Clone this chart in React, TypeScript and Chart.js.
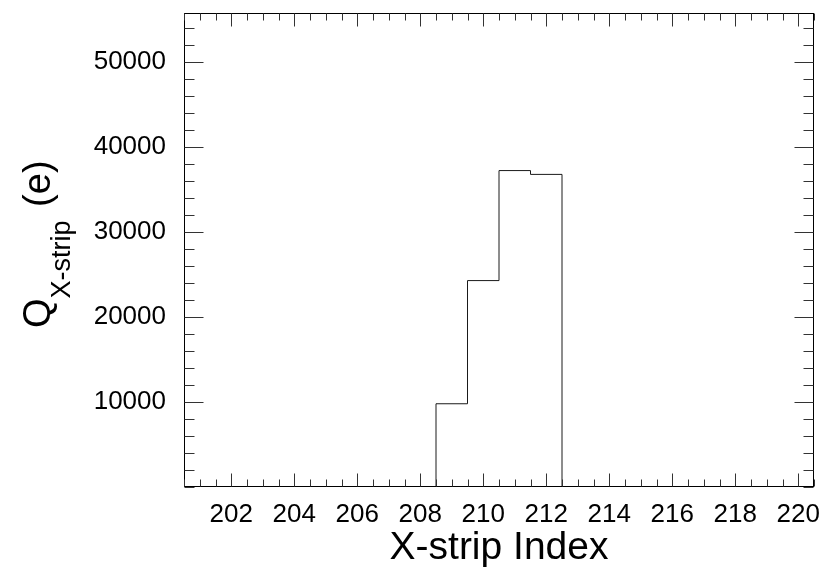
import React, { useEffect, useRef } from 'react';
import { Chart, registerables } from 'chart.js';

Chart.register(...registerables);

// X-strip index (bin centres) and collected charge per strip (electrons)
const stripIndex = [201, 202, 203, 204, 205, 206, 207, 208, 209, 210, 211, 212, 213, 214, 215, 216, 217, 218, 219, 220];
const charge = [0, 0, 0, 0, 0, 0, 0, 0, 9800, 24300, 37250, 36800, 0, 0, 0, 0, 0, 0, 0, 0];

// Axis tick labels
const xTickLabels = [202, 204, 206, 208, 210, 212, 214, 216, 218, 220];
const yTickLabels = [10000, 20000, 30000, 40000, 50000];

const X_MIN = 200.5;
const X_MAX = 220.5;
const Y_MIN = 0;
const Y_MAX = 55800;
const X_MINOR_STEP = 0.5;
const Y_MINOR_STEP = 2000;

const FONT = '"Liberation Sans", Arial, Helvetica, sans-serif';

const rootFrame = {
  id: 'rootFrame',
  afterDraw(chart: any) {
    const { ctx, chartArea: a, scales } = chart;
    const x = scales.x;
    const y = scales.y;
    const L = Math.round(a.left) + 0.5;
    const R = Math.round(a.right) - 0.5;
    const T = Math.round(a.top) + 0.5;
    const B = Math.round(a.bottom) - 0.5;
    ctx.save();
    ctx.lineWidth = 1;
    ctx.strokeStyle = '#000';
    ctx.strokeRect(L, T, R - L, B - T);

    ctx.strokeStyle = '#333';
    ctx.beginPath();
    // x ticks (bottom and top, pointing inwards)
    for (let v = X_MIN; v <= X_MAX + 1e-9; v += X_MINOR_STEP) {
      const isMajor = xTickLabels.includes(Math.round(v * 100) / 100);
      const len = isMajor ? 13 : 7;
      const px = Math.round(x.getPixelForValue(v)) + 0.5;
      ctx.moveTo(px, B);
      ctx.lineTo(px, B - len);
      ctx.moveTo(px, T);
      ctx.lineTo(px, T + len);
    }
    // y ticks (left and right)
    for (let v = Y_MIN; v <= Y_MAX; v += Y_MINOR_STEP) {
      const isMajor = yTickLabels.includes(v);
      const len = isMajor ? 19 : 10;
      const py = Math.round(y.getPixelForValue(v)) + 0.5;
      ctx.moveTo(L, py);
      ctx.lineTo(L + len, py);
      ctx.moveTo(R, py);
      ctx.lineTo(R - len, py);
    }
    ctx.stroke();

    // axis titles
    ctx.fillStyle = '#000';
    ctx.textBaseline = 'alphabetic';
    ctx.font = `39px ${FONT}`;
    ctx.textAlign = 'center';
    ctx.fillText('X-strip Index', (a.left + a.right) / 2, a.bottom + 72);

    ctx.translate(50, 328);
    ctx.rotate(-Math.PI / 2);
    ctx.textAlign = 'left';
    ctx.font = `38px ${FONT}`;
    ctx.fillText('Q', 0, 0);
    let off = ctx.measureText('Q').width;
    ctx.font = `27px ${FONT}`;
    ctx.fillText('X-strip', off, 20);
    off += ctx.measureText('X-strip').width + 3;
    ctx.font = `38px ${FONT}`;
    ctx.fillText(' (e)', off, 0);
    ctx.restore();
  },
};

export default function App() {
  const ref = useRef<HTMLCanvasElement>(null);

  useEffect(() => {
    const points = stripIndex.map((s, i) => ({ x: s - 0.5, y: charge[i] }));
    points.push({ x: stripIndex[stripIndex.length - 1] + 0.5, y: 0 });

    const chart = new Chart(ref.current as HTMLCanvasElement, {
      type: 'line',
      data: {
        datasets: [
          {
            data: points,
            stepped: 'before',
            borderColor: '#1a1a1a',
            borderWidth: 1,
            pointRadius: 0,
            fill: false,
          },
        ],
      },
      options: {
        animation: false,
        responsive: true,
        maintainAspectRatio: false,
        layout: { padding: { top: 13, right: 9, left: 0, bottom: 0 } },
        plugins: { legend: { display: false }, tooltip: { enabled: false } },
        scales: {
          x: {
            type: 'linear',
            min: X_MIN,
            max: X_MAX,
            grid: { display: false, drawTicks: false },
            border: { display: false },
            afterBuildTicks: (s: any) => {
              s.ticks = xTickLabels.map((v) => ({ value: v }));
            },
            afterFit: (s: any) => {
              s.height = 96;
              s.paddingLeft = 0;
              s.paddingRight = 0;
              s.paddingTop = 0;
              s.paddingBottom = 0;
            },
            ticks: {
              autoSkip: false,
              maxRotation: 0,
              padding: 12,
              color: '#000',
              font: { family: FONT, size: 26 },
              callback: (v: any) => String(v),
            },
          },
          y: {
            type: 'linear',
            min: Y_MIN,
            max: Y_MAX,
            grid: { display: false, drawTicks: false },
            border: { display: false },
            afterBuildTicks: (s: any) => {
              s.ticks = yTickLabels.map((v) => ({ value: v }));
            },
            afterFit: (s: any) => {
              s.width = 184;
              s.paddingLeft = 0;
              s.paddingRight = 0;
              s.paddingTop = 0;
              s.paddingBottom = 0;
            },
            ticks: {
              autoSkip: false,
              padding: 18,
              color: '#000',
              font: { family: FONT, size: 26 },
              callback: (v: any) => String(v),
            },
          },
        },
      },
      plugins: [rootFrame],
    });
    return () => chart.destroy();
  }, []);

  return (
    <div style={{ position: 'fixed', left: 0, top: 0, width: 823, height: 583, background: '#fff' }}>
      <canvas ref={ref} />
    </div>
  );
}
